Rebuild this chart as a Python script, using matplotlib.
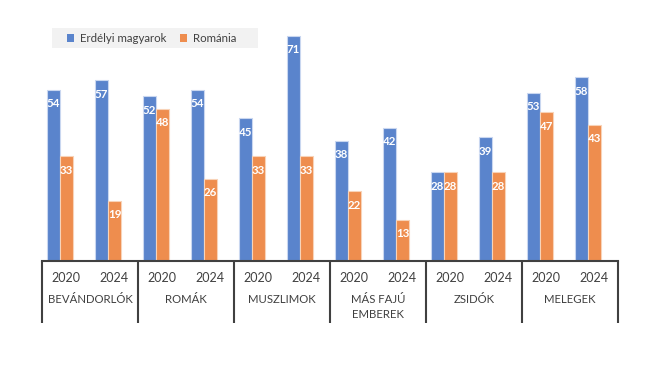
import matplotlib.pyplot as plt
import matplotlib.transforms as mtransforms
from matplotlib.patches import Patch, Rectangle

# data
categories = ['BEVÁNDORLÓK', 'ROMÁK', 'MUSZLIMOK', 'MÁS FAJÚ\nEMBEREK', 'ZSIDÓK', 'MELEGEK']
years = ['2020', '2024']
erdelyi = [54, 57, 52, 54, 45, 71, 38, 42, 28, 39, 53, 58]
romania = [33, 19, 48, 26, 33, 33, 22, 13, 28, 28, 47, 43]
series_names = ['Erdélyi magyarok', 'Románia']

blue = '#5A84CC'
orange = '#EE8D4E'
txt = '#404040'

plt.rcParams['font.family'] = ['Lato', 'DejaVu Sans']

fig = plt.figure(figsize=(6.58, 3.87), dpi=100)
# axes box in pixels: x 42..618, y 20..261
W, H = 658, 387
ax = fig.add_axes([42 / W, (H - 261) / H, (618 - 42) / W, (261 - 20) / H])

n = len(erdelyi)
slots = list(range(n))
bw = 0.27
xb = [s + 0.105 for s in slots]
xo = [s + 0.375 for s in slots]
b1 = ax.bar(xb, erdelyi, width=bw, align='edge', color=blue, edgecolor='#c9d7f0', linewidth=0.8)
b2 = ax.bar(xo, romania, width=bw, align='edge', color=orange, edgecolor='#f8d3b8', linewidth=0.8)

for bars, vals in ((b1, erdelyi), (b2, romania)):
    for r, v in zip(bars, vals):
        ax.annotate(str(v), (r.get_x() + r.get_width() / 2, v), xytext=(0, -14),
                    textcoords='offset pixels',
                    ha='center', va='center', color='white', fontsize=8.3,
                    fontweight='bold')

ax.set_xlim(0, n)
ax.set_ylim(0, 241 / 3.17)
for s in ['top', 'right', 'left']:
    ax.spines[s].set_visible(False)
ax.spines['bottom'].set_color(txt)
ax.spines['bottom'].set_linewidth(1.5)
ax.set_xticks([])
ax.set_yticks([])

trans = mtransforms.blended_transform_factory(ax.transData, ax.transAxes)
ah = 241.0
for g in range(len(categories) + 1):
    ax.plot([2 * g, 2 * g], [0, -62 / ah], transform=trans, color=txt,
            lw=1.5, clip_on=False, solid_capstyle='butt')
for i in range(n):
    ax.text(i + 0.5, -17 / ah, years[i % 2], transform=trans, ha='center',
            va='center', fontsize=9, color=txt)
for g, c in enumerate(categories):
    ax.text(2 * g + 1, -33 / ah, c, transform=trans, ha='center', va='top',
            fontsize=8.2, color=txt, linespacing=1.5)

# legend on a light grey box
fig.patches.append(Rectangle((52 / W, 1 - 48 / H), 206 / W, 20 / H,
                             transform=fig.transFigure, facecolor='#f2f2f2',
                             edgecolor='none', zorder=0))
handles = [Patch(facecolor=blue), Patch(facecolor=orange)]
leg = fig.legend(handles, series_names, loc='center left',
                 bbox_to_anchor=(58 / W, 1 - 38.5 / H), ncol=2, frameon=False,
                 fontsize=8.3, handlelength=0.6, handleheight=0.6,
                 handletextpad=0.5, columnspacing=1.2, borderpad=0.3,
                 labelcolor=txt)

fig.savefig('out.png', dpi=100)
